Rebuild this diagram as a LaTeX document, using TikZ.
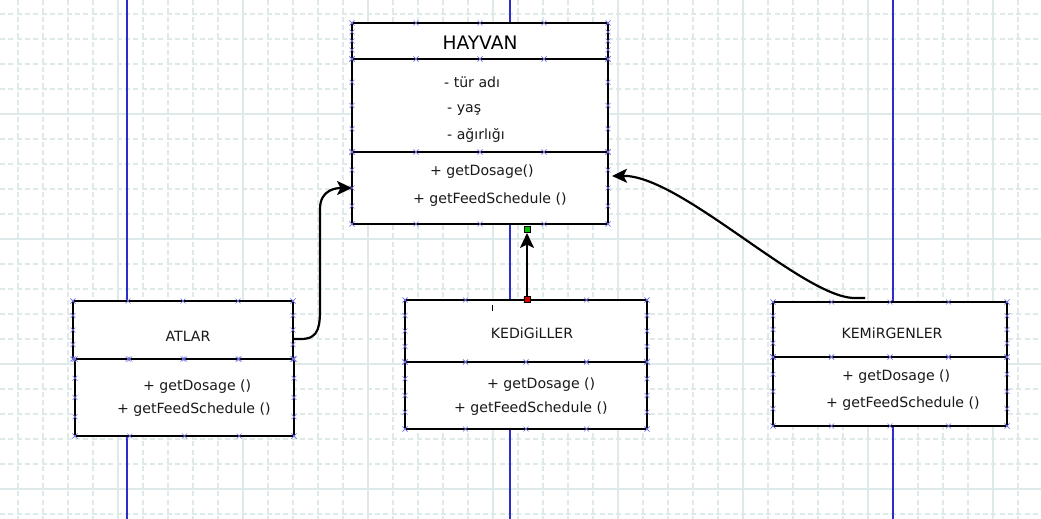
\documentclass[tikz,border=0pt]{standalone}
\usepackage{fontspec}
\setmainfont{DejaVu Sans}
\usetikzlibrary{arrows.meta,calc}

\definecolor{gridc}{RGB}{222,234,234}
\definecolor{lanec}{RGB}{45,45,200}
\definecolor{gripc}{RGB}{115,115,230}

\tikzset{
  xm/.pic={\draw[gripc,line width=0.6pt] (-2.5,-2.5) -- (2.5,2.5) (-2.5,2.5) -- (2.5,-2.5);},
}

\begin{document}
\begin{tikzpicture}
    [x=1pt,y=-1pt,
     part/.style={draw,line width=2.4pt,fill=white,rectangle,inner sep=0pt,outer sep=0pt},
     txt/.style={inner sep=0pt,text=black!90,font=\fontsize{14.1}{17}\selectfont},
     ttl/.style={inner sep=0pt,font=\fontsize{18.6}{22}\selectfont},
     gridminor/.style={gridc,line width=1.6pt,dash pattern=on 5pt off 3.33pt},
     gridmajor/.style={gridc,line width=1.6pt},
     lane/.style={lanec,line width=1.3pt},
     conn/.style={line width=2.2pt,-{Stealth[length=15pt,width=14pt,inset=3.5pt]}},
     grip/.style={draw=black,line width=0.6pt,minimum size=6pt,inner sep=0pt}]
    \fill[white] (0,0) rectangle (1041,519);
    \useasboundingbox (0,0) rectangle (1041,519);
    % grid
    \foreach \i in {0,...,41} \draw[gridminor] (18+25*\i,0) -- (18+25*\i,519);
    \foreach \i in {0,...,20} \draw[gridminor] (0,14+25*\i) -- (1041,14+25*\i);
    \foreach \gx in {118,243,...,993} \draw[gridmajor] (\gx,0) -- (\gx,519);
    \foreach \gy in {114,239,364,489} \draw[gridmajor] (0,\gy) -- (1041,\gy);
    \foreach \lx in {127,510,893} \draw[lane] (\lx,0) -- (\lx,519);
    % classes
    \node[part,minimum width=256pt,minimum height=36pt] (hayvanhdr) at (480,41) {};
    \node[part,minimum width=256pt,minimum height=93pt] (hayvanattr) at (480,105.5) {};
    \node[part,minimum width=256pt,minimum height=72pt] (hayvanops) at (480,188) {};
    \node[part,minimum width=220pt,minimum height=58pt] (atlarhdr) at (183,330) {};
    \node[part,minimum width=219pt,minimum height=77pt] (atlarops) at (184.5,397.5) {};
    \node[part,minimum width=242pt,minimum height=62pt] (kedhdr) at (526,331) {};
    \node[part,minimum width=242pt,minimum height=67pt] (kedops) at (526,395.5) {};
    \node[part,minimum width=234pt,minimum height=55pt] (kemhdr) at (890,329.5) {};
    \node[part,minimum width=234pt,minimum height=69pt] (kemops) at (890,391.5) {};
    % texts
    \node[ttl] (hayvanname) at (480,43) {HAYVAN};
    \node[txt,anchor=west] (hayvana1) at (444,82) {- tür adı};
    \node[txt,anchor=west] (hayvana2) at (447,110) {- yaş};
    \node[txt,anchor=west] (hayvana3) at (447,135) {- ağırlığı};
    \node[txt,anchor=west] (hayvano1) at (430,172) {+ getDosage()};
    \node[txt,anchor=west] (hayvano2) at (413,200) {+ getFeedSchedule ()};
    \node[txt] (atlarname) at (188,336) {ATLAR};
    \node[txt,anchor=west] (atlaro1) at (143,387) {+ getDosage ()};
    \node[txt,anchor=west] (atlaro2) at (117,410) {+ getFeedSchedule ()};
    \node[txt] (kedname) at (532,333) {KEDiGiLLER};
    \node[txt,anchor=west] (kedo1) at (487,385) {+ getDosage ()};
    \node[txt,anchor=west] (kedo2) at (454,409) {+ getFeedSchedule ()};
    \node[txt] (kemname) at (892,333) {KEMiRGENLER};
    \node[txt,anchor=west] (kemo1) at (842,377) {+ getDosage ()};
    \node[txt,anchor=west] (kemo2) at (826,404) {+ getFeedSchedule ()};
    \draw[line width=1pt] (492,305) -- (492,311);
    % selection marks
    \foreach \b in {hayvanhdr,hayvanattr,hayvanops,atlarhdr,atlarops,kedhdr,kedops,kemhdr,kemops}
      \foreach \t in {0,0.25,0.5,0.75,1} {
        \pic at ($(\b.north west)!\t!(\b.north east)$) {xm};
        \pic at ($(\b.south west)!\t!(\b.south east)$) {xm};
        \pic at ($(\b.north west)!\t!(\b.south west)$) {xm};
        \pic at ($(\b.north east)!\t!(\b.south east)$) {xm};
      }
    % connectors
    \draw[conn] ($(atlarhdr.east)+(0,9)$) -- ++(8,0)
      .. controls +(19,0) and +(0,20) .. ++(19,-34) -- ++(0,-96)
      .. controls +(0,-20) and +(-15,0) .. (hayvanops.west);
    \draw[conn] ($(kedhdr.north)+(1,0)$) -- ($(kedhdr.north |- hayvanops.south)+(1,9)$);
    \draw[conn] ($(kemhdr.north)+(-25,-4)$) -- ++(-12,0)
      .. controls +(-53,-3) and +(68,-1) .. ($(hayvanops.east)+(4,-12)$);
    \node[grip,fill=red!85!black] (gripa) at ($(kedhdr.north)+(1,-1)$) {};
    \node[grip,fill=green!75!black] (gripb) at ($(kedhdr.north |- hayvanops.south)+(1,5)$) {};
  \end{tikzpicture}
\end{document}
